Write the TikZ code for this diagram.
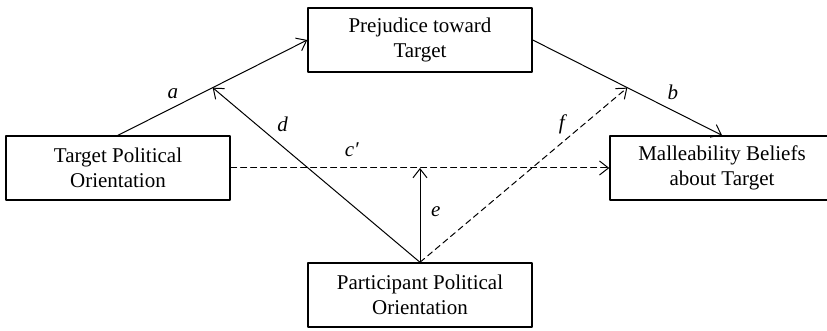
\documentclass[tikz,border=0pt]{standalone}
\usepackage{fontspec}
\setmainfont{Liberation Serif}
\usetikzlibrary{calc}
\usetikzlibrary{arrows.meta}

\begin{document}
\begin{tikzpicture}[x=0.5pt,y=0.5pt,>={Straight Barb[length=4.5pt,width=7pt]},line cap=round,line join=round,
  var/.style={draw,line width=0.7pt,minimum width=112pt,minimum height=32pt,align=center,inner sep=0pt,font=\fontsize{10.5}{12.5}\selectfont},
  link/.style={->,line width=0.5pt},
  lbl/.style={font=\fontsize{10.5}{12.5}\selectfont\itshape}]
  \useasboundingbox (0,0) rectangle (827,331);

  % variables
  \node[var] (tpo)  at (118,163) {Target Political\\Orientation};
  \node[var] (prej) at (420,291) {Prejudice toward\\Target};
  \node[var] (mall) at (722,163) {Malleability Beliefs\\about Target};
  \node[var] (ppo)  at (420,36)  {Participant Political\\Orientation};

  % points where the moderator hits the paths
  \coordinate (ma) at ($(tpo.north)!0.5!(prej.west)$);
  \coordinate (mb) at ($(prej.east)!0.5!(mall.north)$);
  \coordinate (mc) at (ppo.north |- tpo.east);

  % paths
  \draw[link] (tpo.north) -- node[lbl,pos=0.29,above=1pt] {a} (prej.west);
  \draw[link] (prej.east) -- node[lbl,pos=0.74,above=2pt] {b} (mall.north);
  \draw[link,dashed,dash pattern=on 3pt off 2pt] (tpo.east) -- node[lbl,pos=0.32,above=2pt] {c′} (mall.west);
  \draw[link] (ppo.north) -- node[lbl,pos=0.79,right=7pt] {d} (ma);
  \draw[link] (ppo.north) -- node[lbl,pos=0.54,right=2pt] {e} (mc);
  \draw[link,dashed,dash pattern=on 3pt off 2pt] (ppo.north) -- node[lbl,pos=0.79,left=6pt] {f} (mb);
\end{tikzpicture}
\end{document}
